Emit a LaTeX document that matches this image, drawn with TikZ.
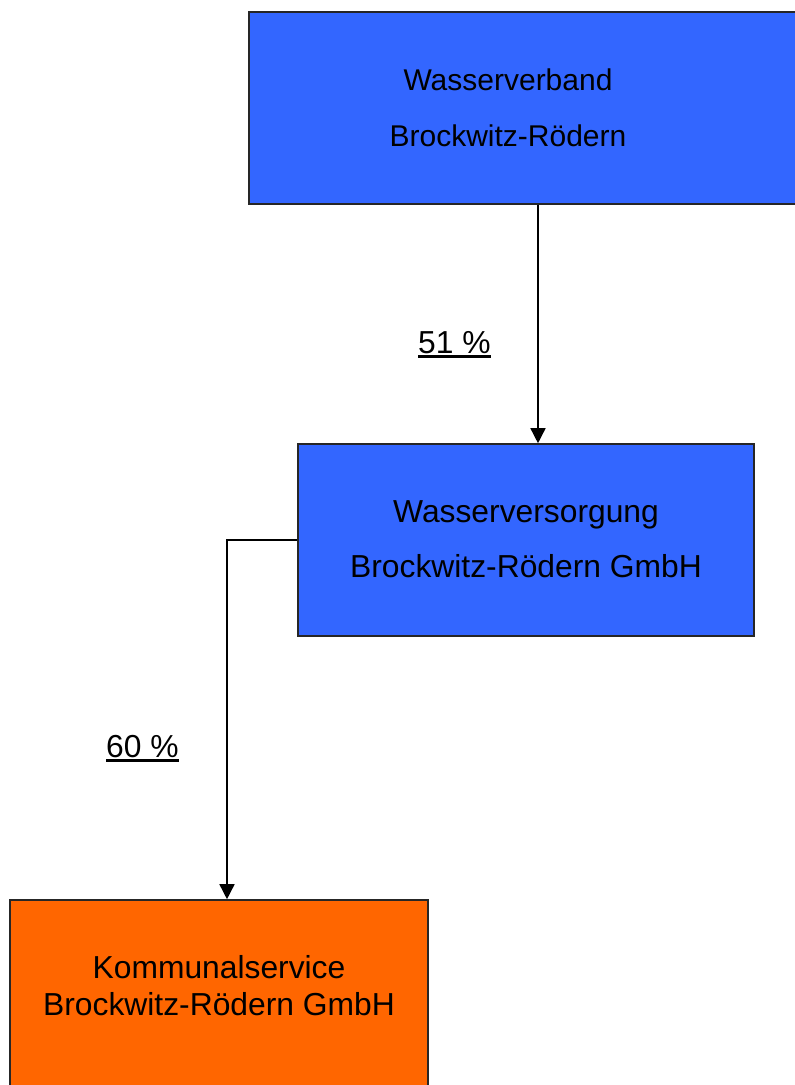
\documentclass[tikz,border=0pt]{standalone}
\usepackage{fontspec}
\setmainfont{Liberation Sans}
\usetikzlibrary{arrows.meta}
\definecolor{boxblue}{HTML}{3366FF}
\definecolor{boxorange}{HTML}{FF6600}
\tikzset{
  orgbox/.style={draw=black!85, line width=1.6pt, inner sep=0pt, rectangle},
  txtA/.style={font=\fontsize{30}{36}\selectfont, anchor=base, inner sep=0pt},
  txtB/.style={font=\fontsize{31.8}{38}\selectfont, anchor=base, inner sep=0pt},
  lbl/.style={font=\fontsize{31.8}{38}\selectfont, anchor=base west, inner sep=0pt},
  uline/.style={line width=2.2pt},
  arr/.style={line width=1.5pt, -{Triangle[width=15pt,length=15pt]}}
}
\begin{document}
\begin{tikzpicture}[x=1pt,y=-1pt]
\useasboundingbox (0,0) rectangle (795,1085);
% boxes
\node[orgbox, fill=boxblue, minimum width=561pt, minimum height=192pt] (top) at (529.5,108) {};
\node[orgbox, fill=boxblue, minimum width=456pt, minimum height=192pt] (mid) at (526,540) {};
\node[orgbox, fill=boxorange, minimum width=418pt, minimum height=210pt] (bot) at (219,1005) {};
% texts
\node[txtA] (t1) at (508,90) {Wasserverband};
\node[txtA] (t2) at (508,146) {Brockwitz-Rödern};
\node[txtB] (m1) at (526,522) {Wasserversorgung};
\node[txtB] (m2) at (526,577) {Brockwitz-Rödern GmbH};
\node[txtB] (b1) at (219,978) {Kommunalservice};
\node[txtB] (b2) at (219,1015) {Brockwitz-Rödern GmbH};
% connector helpers
\coordinate (c1) at (538,300);
\coordinate (c2) at (227,540);
\draw[arr] (top.south -| c1) -- (mid.north -| c1);
\draw[arr] (mid.west |- c2) -| (bot.north -| c2);
% labels
\node[lbl] (l51) at (418,353) {51 \%};
\node[lbl] (l60) at (106,757) {60 \%};
\draw[uline] ([yshift=-3.5pt]l51.base west) -- ([yshift=-3.5pt]l51.base east);
\draw[uline] ([yshift=-3.5pt]l60.base west) -- ([yshift=-3.5pt]l60.base east);
\end{tikzpicture}
\end{document}
